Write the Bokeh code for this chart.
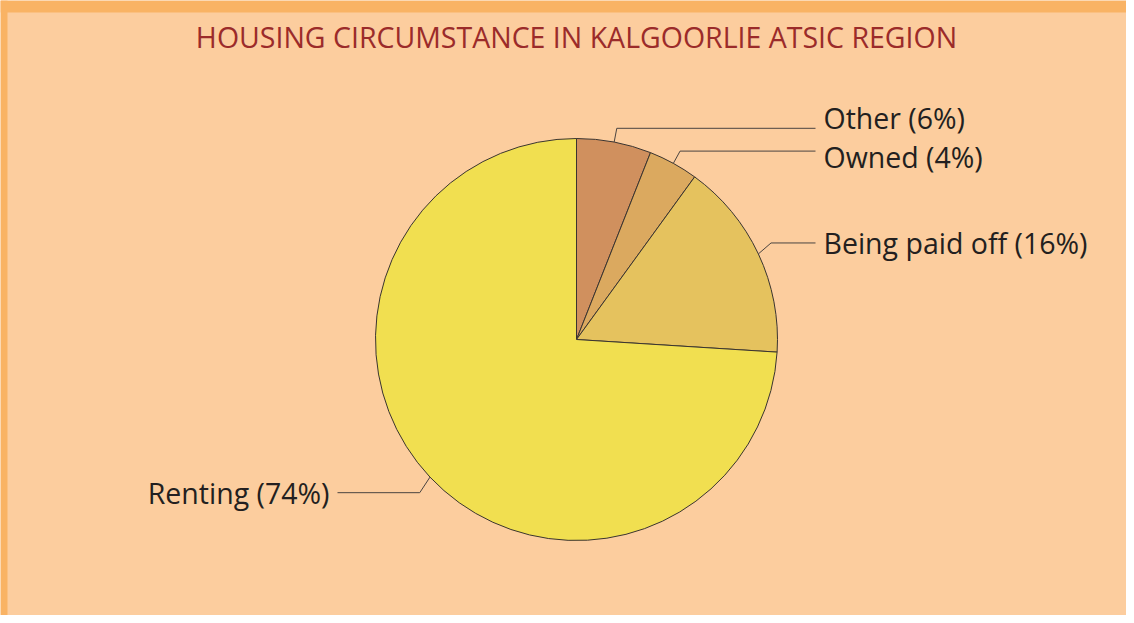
import math
from bokeh.plotting import figure
from bokeh.models import Range1d, ColumnDataSource
from bokeh.core.properties import value
from bokeh.embed import file_html
from bokeh.resources import INLINE

# ---- data ----
categories = ["Other", "Owned", "Being paid off", "Renting"]
percents = [6, 4, 16, 74]
colors = ["#D0905E", "#DBA95F", "#E5C25E", "#F1DF50"]
title_text = "HOUSING CIRCUMSTANCE IN KALGOORLIE ATSIC REGION"

# ---- layout (pixel space, y measured up from bottom of picture) ----
W, H = 1126, 615
PAGE_H = 623
BG = "#FCCD9E"
BORDER = "#F9B364"
TEXT = "#231F20"
TITLE_C = "#9B2B2A"
FONT = "Open Sans"
FS = "28.5px"

cx, cy, r = 576, PAGE_H - 339, 201
elbow_r = r + 14
right_x, left_x = 815, 337
label_gap = 8
label_nudge = {"Other": 10, "Owned": -6}           # separation of crowded labels
elbow_nudge = {"Being paid off": 5, "Renting": -6}  # small elbow adjustments

p = figure(width=W, height=H, output_backend="svg", toolbar_location=None,
           x_range=Range1d(0, W), y_range=Range1d(PAGE_H - H, PAGE_H),
           min_border=0, min_border_left=0, min_border_right=0,
           min_border_top=0, min_border_bottom=0)
p.axis.visible = False
p.grid.visible = False
p.outline_line_color = None
p.background_fill_color = BG
p.border_fill_color = BG

# orange strips of the panel border (top and left)
p.quad(left=0, right=W, bottom=PAGE_H - 12, top=PAGE_H,
       fill_color=BORDER, line_color=None)
p.quad(left=0, right=7, bottom=PAGE_H - H, top=PAGE_H,
       fill_color=BORDER, line_color=None)

# wedges
total = sum(percents)
starts, ends, mids = [], [], []
cum = 0.0
for v in percents:
    a0 = math.pi / 2 - 2 * math.pi * cum / total
    cum += v
    a1 = math.pi / 2 - 2 * math.pi * cum / total
    starts.append(a1)
    ends.append(a0)
    mids.append((a0 + a1) / 2)

src = ColumnDataSource(dict(start=starts, end=ends, color=colors))
p.wedge(x=cx, y=cy, radius=r, start_angle="start", end_angle="end",
        fill_color="color", line_color="#3A3430", line_width=1, source=src)

# leader lines and labels
for name, pct, m in zip(categories, percents, mids):
    ex, ey = cx + r * math.cos(m), cy + r * math.sin(m)
    bx = cx + elbow_r * math.cos(m)
    by = cy + elbow_r * math.sin(m) + elbow_nudge.get(name, 0)
    right = math.cos(m) >= 0
    hx = right_x if right else left_x
    p.line([ex, bx, hx], [ey, by, by], line_color="#4A4440", line_width=1)
    ly = by + label_nudge.get(name, 0)
    lx = hx + label_gap if right else hx - label_gap
    p.text(x=[lx], y=[ly], text=[f"{name} ({pct}%)"],
           text_align="left" if right else "right", text_baseline="middle",
           text_font=value(FONT), text_font_size=FS, text_color=TEXT)

# title
p.text(x=[576], y=[PAGE_H - 36], text=[title_text], text_align="center",
       text_baseline="middle", text_font=value(FONT), text_font_size=FS,
       text_color=TITLE_C)

open("out.html", "w").write(file_html(p, INLINE))
